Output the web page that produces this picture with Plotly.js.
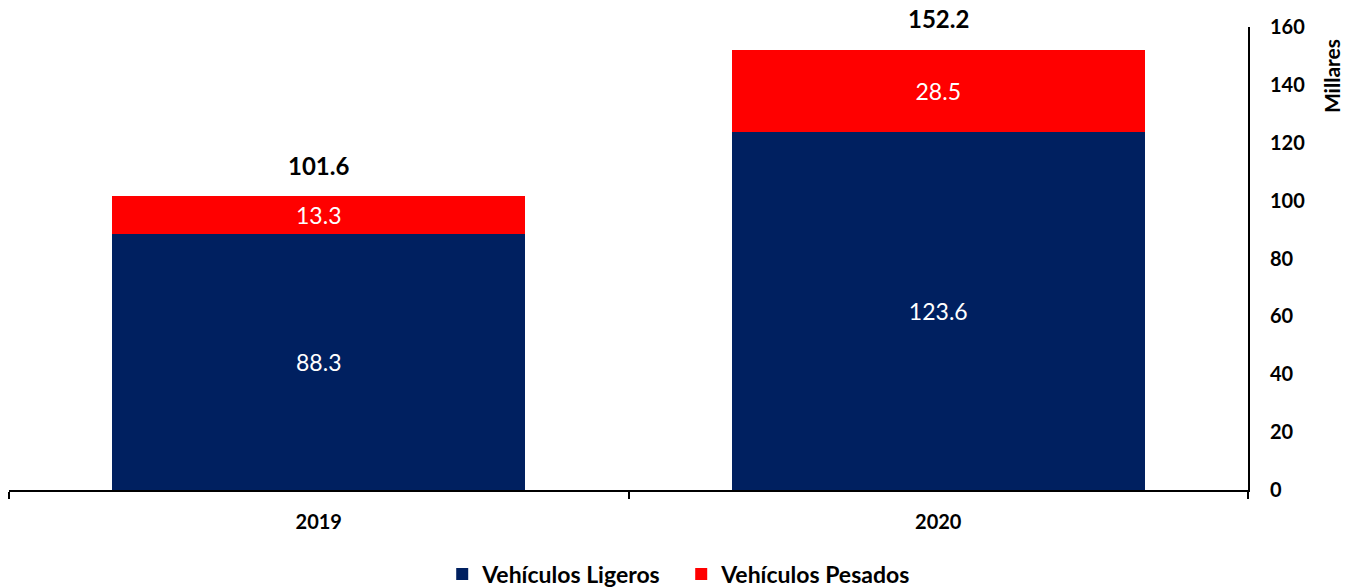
<!DOCTYPE html>
<html>
<head>
<meta charset="utf-8">
<script src="https://cdn.plot.ly/plotly-3.0.1.min.js"></script>
<style>html,body{margin:0;padding:0;background:#fff;}#chart{width:1357px;height:587px;}</style>
</head>
<body>
<div id="chart"></div>
<script>
const years = ['2019', '2020'];
const ligeros = [88.3, 123.6];
const pesados = [13.3, 28.5];
const totals = [101.6, 152.2];
const yTicks = [0, 20, 40, 60, 80, 100, 120, 140, 160];
const unitLabel = 'Millares';

const fontFam = 'Lato, "Open Sans", sans-serif';

const traces = [
  {
    type: 'bar', name: 'Vehículos Ligeros', x: years, y: ligeros,
    marker: {color: '#002060'},
    text: ligeros.map(v => v.toFixed(1)), textposition: 'inside', insidetextanchor: 'middle',
    textfont: {color: '#ffffff', size: 23, family: fontFam},
    hoverinfo: 'none'
  },
  {
    type: 'bar', name: 'Vehículos Pesados', x: years, y: pesados,
    marker: {color: '#FF0000'},
    text: pesados.map(v => v.toFixed(1)), textposition: 'inside', insidetextanchor: 'middle',
    textfont: {color: '#ffffff', size: 23, family: fontFam},
    hoverinfo: 'none'
  }
];

const annotations = years.map((yr, i) => ({
  x: i, y: totals[i], xref: 'x', yref: 'y',
  text: totals[i].toFixed(1), showarrow: false,
  yanchor: 'middle', yshift: 31,
  font: {size: 24, color: '#000', family: fontFam, weight: 'bold'}
}));
annotations.push({
  xref: 'paper', yref: 'paper', x: 1.067, y: 0.894,
  text: unitLabel, textangle: -90, showarrow: false,
  xanchor: 'center', yanchor: 'middle',
  font: {size: 21, color: '#000', family: fontFam, weight: 'bold'}
});

const layout = {
  width: 1357, height: 587,
  margin: {l: 9, r: 109, t: 27, b: 97, autoexpand: false},
  paper_bgcolor: '#fff', plot_bgcolor: '#fff',
  barmode: 'stack', bargap: 0.333,
  font: {family: fontFam, color: '#000'},
  showlegend: true,
  legend: {
    orientation: 'h', xref: 'container', yref: 'container',
    x: 0.502, xanchor: 'center', y: 0.022, yanchor: 'middle',
    font: {size: 23, color: '#000', family: fontFam, weight: 'bold'}, traceorder: 'normal',
    itemwidth: 30, entrywidth: 194, entrywidthmode: 'pixels'
  },
  xaxis: {
    type: 'category', showline: true, linecolor: '#000', linewidth: 2,
    ticks: 'outside', tickson: 'boundaries', ticklen: 7, tickwidth: 2, tickcolor: '#000',
    tickfont: {size: 20, color: '#000', family: fontFam, weight: 'bold'},
    tickangle: 0, ticklabelstandoff: 13, automargin: false,
    showgrid: false, zeroline: false, fixedrange: true
  },
  yaxis: {
    side: 'right', range: [0, 160], tickvals: yTicks,
    showline: true, linecolor: '#000', linewidth: 2, ticks: '',
    tickfont: {size: 20, color: '#000', family: fontFam, weight: 'bold'},
    ticklabelstandoff: 16, automargin: false,
    showgrid: false, zeroline: false, fixedrange: true
  },
  annotations: annotations
};

Plotly.newPlot('chart', traces, layout, {displayModeBar: false, staticPlot: true});
</script>
</body>
</html>
